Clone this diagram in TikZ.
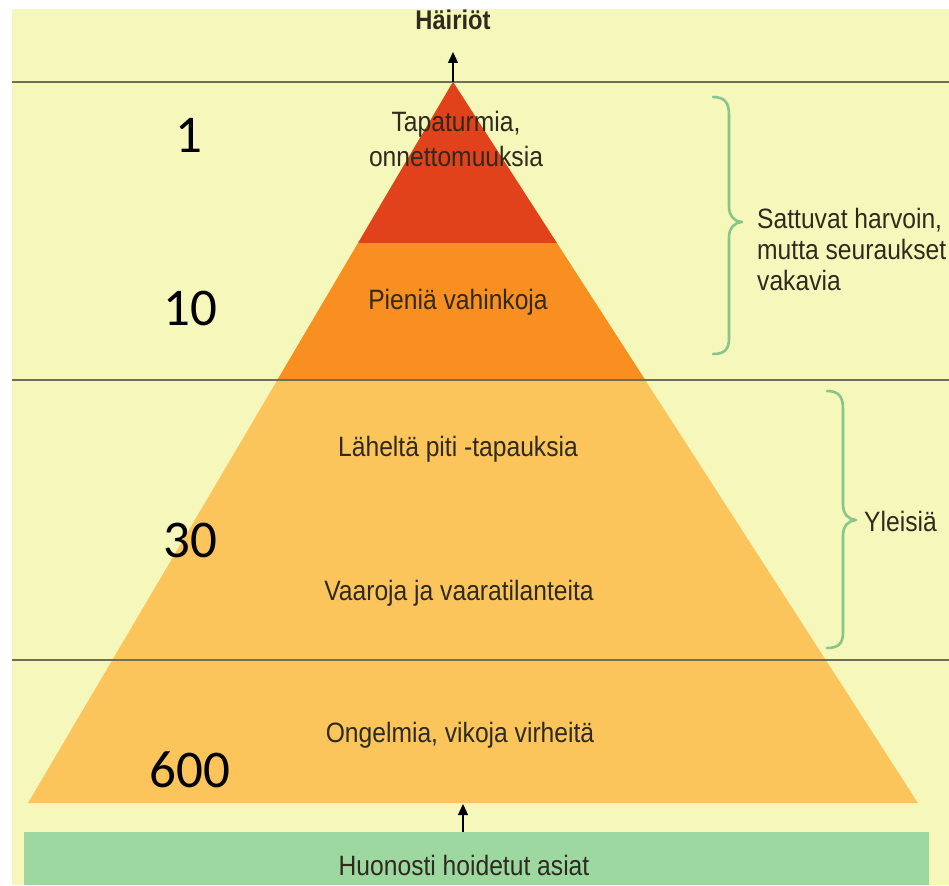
\documentclass[tikz,border=0pt]{standalone}
\usepackage{fontspec}
\setmainfont{Liberation Sans}[FakeStretch=0.88]
\newfontfamily\numfont{Carlito}
\usetikzlibrary{arrows.meta,calc}
\definecolor{bgyellow}{HTML}{F5F8BA}
\definecolor{redband}{HTML}{E2421B}
\definecolor{orangeband}{HTML}{F98F20}
\definecolor{lightband}{HTML}{FCC55C}
\definecolor{greenbox}{HTML}{9ED8A1}
\definecolor{bracegreen}{HTML}{86C688}
\definecolor{linegray}{HTML}{6E6F55}
\definecolor{textdark}{HTML}{2E2A1E}
\tikzset{
  sepline/.style={draw=linegray, line width=1.6pt},
  lbl/.style={inner sep=0pt, text=textdark, font=\fontsize{28}{35}\selectfont, align=center},
  rlbl/.style={inner sep=0pt, text=textdark, font=\fontsize{28}{31}\selectfont, align=left},
  numlbl/.style={inner sep=0pt, text=black, font=\numfont\fontsize{53}{53}\selectfont},
  upArrow/.style={draw=black, line width=1.3pt, -{Triangle[length=11pt,width=10pt]}},
  curly/.style={draw=bracegreen, line width=2.6pt, line cap=round, line join=round},
}
\begin{document}
\begin{tikzpicture}[x=1pt,y=-1pt]
\useasboundingbox (0,0) rectangle (949,885);
\fill[bgyellow] (12,9) rectangle (949,885);
% pyramid
\coordinate (apex) at (453,82);
\coordinate (lf) at (28,803);
\coordinate (rf) at (918,803);
\fill[lightband] (apex) -- (lf) -- (rf) -- cycle;
\fill[orangeband] (apex) -- ($(apex)!0.4133!(lf)$) -- ($(apex)!0.4133!(rf)$) -- cycle;
\fill[redband] (apex) -- ($(apex)!0.2233!(lf)$) -- ($(apex)!0.2233!(rf)$) -- cycle;
% separating lines
\draw[sepline] (12,82) -- (949,82);
\draw[sepline] (12,380) -- (949,380);
\draw[sepline] (12,660) -- (949,660);
% top label and arrow
\node[lbl, anchor=base, font=\bfseries\fontsize{27}{30}\selectfont] (hairiot) at (453,30) {Häiriöt};
\coordinate (toptip) at (453,52);
\draw[upArrow] (apex) -- (toptip);
% base box
\node[fill=greenbox, minimum width=905pt, minimum height=53pt, inner sep=0pt] (ground) at (476.5,858.5) {};
\node[lbl, anchor=base] (groundtext) at (464,875) {Huonosti hoidetut asiat};
\coordinate (basetip) at (463,804);
\draw[upArrow] (ground.north -| basetip) -- (basetip);
% pyramid labels
\node[lbl, anchor=base] (accidents) at (456,167) {Tapaturmia,\\onnettomuuksia};
\node[lbl, anchor=base] (minor) at (458,309) {Pieniä vahinkoja};
\node[lbl, anchor=base] (near) at (458,456) {Läheltä piti -tapauksia};
\node[lbl, anchor=base] (hazards) at (459,600) {Vaaroja ja vaaratilanteita};
\node[lbl, anchor=base] (problems) at (460,742) {Ongelmia, vikoja virheitä};
% numbers
\node[numlbl, anchor=base] (n1) at (189,153) {1};
\node[numlbl, anchor=base] (n10) at (190,325) {10};
\node[numlbl, anchor=base] (n30) at (190,557) {30};
\node[numlbl, anchor=base] (n600) at (190,787) {600};
% braces
\draw[curly] (713,97) .. controls (725,97) and (729,103) .. (729,115) -- (729,207)
  .. controls (729,216) and (735,222) .. (742,222)
  .. controls (735,222) and (729,228) .. (729,237) -- (729,338)
  .. controls (729,349) and (725,354) .. (713,354);
\draw[curly] (827,391) .. controls (839,391) and (843,397) .. (843,409) -- (843,505)
  .. controls (843,514) and (849,520) .. (856,520)
  .. controls (849,520) and (843,526) .. (843,535) -- (843,632)
  .. controls (843,643) and (839,648) .. (827,648);
\node[rlbl, anchor=base west] (rare) at (757,290) {Sattuvat harvoin,\\mutta seuraukset\\vakavia};
\node[rlbl, anchor=base west] (common) at (864,531) {Yleisiä};
\end{tikzpicture}
\end{document}
